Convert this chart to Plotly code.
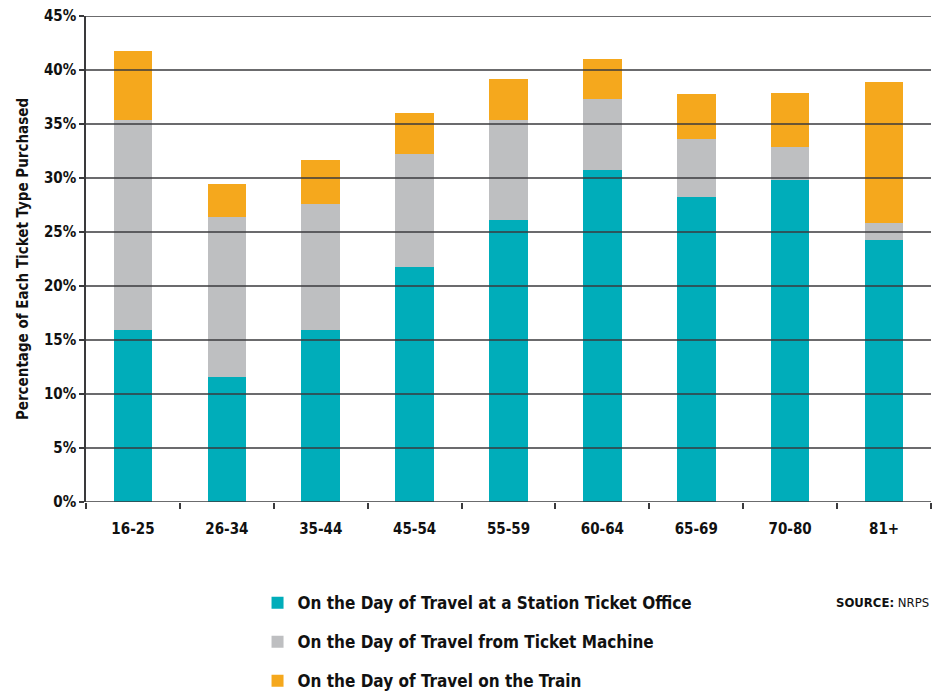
import plotly.graph_objects as go

# Age bands and share of each ticket type purchased (%)
age_groups = ["16-25", "26-34", "35-44", "45-54", "55-59", "60-64", "65-69", "70-80", "81+"]
station_office = [15.9, 11.6, 15.9, 21.8, 26.1, 30.7, 28.2, 29.8, 24.3]
ticket_machine = [19.5, 14.8, 11.7, 10.4, 9.3, 6.6, 5.4, 3.1, 1.5]
on_train = [6.4, 3.0, 4.1, 3.8, 3.8, 3.7, 4.2, 5.0, 13.1]

series_names = [
    "On the Day of Travel at a Station Ticket Office",
    "On the Day of Travel from Ticket Machine",
    "On the Day of Travel on the Train",
]
series_colors = ["#00ADBA", "#BEBFC1", "#F5A81D"]
y_ticks = [0, 5, 10, 15, 20, 25, 30, 35, 40, 45]

FONT = "DejaVu Sans Condensed, Liberation Sans Narrow, sans-serif"
INK = "#111111"
GRID = "#3a3a3c"

fig = go.Figure()
for i, (name, vals, col) in enumerate(zip(series_names,
                                          [station_office, ticket_machine, on_train],
                                          series_colors)):
    fig.add_trace(go.Bar(
        x=age_groups, y=vals, name=name, marker_color=col,
        marker_line_width=0, width=0.41, legendgroup=f"g{i}",
        hovertemplate="%{x}: %{y:.1f}%<extra></extra>",
    ))

# Horizontal rules drawn on top of the bars
for t in y_ticks:
    fig.add_shape(type="line", xref="paper", yref="y", x0=0, x1=1, y0=t, y1=t,
                  line=dict(color=GRID, width=1.5), layer="above")

fig.add_annotation(
    text="<b>SOURCE:</b> NRPS", xref="paper", yref="paper",
    x=1.0, y=-0.207, xanchor="right", yanchor="middle", showarrow=False,
    font=dict(family=FONT, size=13, color=INK),
)

fig.update_layout(
    width=940, height=693,
    margin=dict(l=86, r=9, t=16, b=191, autoexpand=False),
    paper_bgcolor="white", plot_bgcolor="white",
    barmode="stack",
    font=dict(family=FONT, color=INK),
    showlegend=True,
    legend=dict(
        x=0.203, y=-0.171, xanchor="left", yanchor="top",
        orientation="v", traceorder="grouped", tracegroupgap=14,
        font=dict(family=FONT, size=17, color=INK, weight="bold"),
        itemsizing="constant",
    ),
    xaxis=dict(
        type="category", showgrid=False, showline=False,
        ticks="outside", tickson="boundaries", ticklen=6, tickcolor=GRID, tickwidth=1.5,
        tickfont=dict(family=FONT, size=15, color=INK, weight="bold"),
        ticklabelstandoff=16,
    ),
    yaxis=dict(
        range=[0, 45], tickvals=y_ticks, ticktext=[f"{v}%" for v in y_ticks],
        showgrid=False, zeroline=False,
        showline=True, linecolor=GRID, linewidth=1.5,
        ticks="outside", ticklen=5, tickcolor=GRID, tickwidth=1.5,
        tickfont=dict(family=FONT, size=15, color=INK, weight="bold"),
        title=dict(text="Percentage of Each Ticket Type Purchased",
                   font=dict(family=FONT, size=15, color=INK, weight="bold"),
                   standoff=12),
    ),
)

fig.write_html("out.html")
